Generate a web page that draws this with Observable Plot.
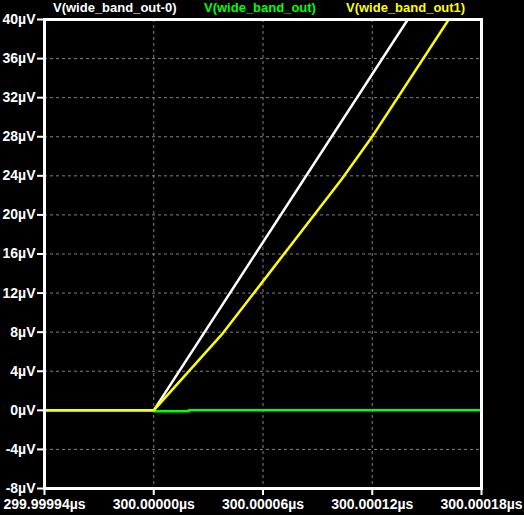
<!DOCTYPE html>
<html>
<head>
<meta charset="utf-8">
<script src="https://cdn.jsdelivr.net/npm/d3@7"></script>
<script src="https://cdn.jsdelivr.net/npm/@observablehq/plot@0.6"></script>
<style>
  html, body { margin: 0; padding: 0; background: #000; }
  #wrap { position: relative; width: 524px; height: 515px; background: #000; }
  #legend span { position: absolute; top: 0px; font: bold 13px "Liberation Sans", Arial, sans-serif; white-space: nowrap; }
</style>
</head>
<body>
<div id="wrap"><div id="legend"></div></div>
<script>
// time axis: picoseconds offset from 300 µs
const seriesNames = ["V(wide_band_out-0)", "V(wide_band_out)", "V(wide_band_out1)"];
const seriesColors = ["#ffffff", "#00ff00", "#ffff00"];

const whiteT = [-60, 0, 139.5];
const whiteV = [0, 0, 40];

const greenT = [-60, 0, 0, 19.2, 19.2, 180];
const greenV = [0, 0, -0.1, -0.1, 0, 0];

const yellowT = [-60, 0, 37.9, 103.2, 119.7, 162.0];
const yellowV = [0, 0, 7.88, 23.64, 27.94, 40];

const xTicks = [-60, 0, 60, 120, 180];
const xTickLabels = ["299.99994µs", "300.00000µs", "300.00006µs", "300.00012µs", "300.00018µs"];
const yTicks = [-8, -4, 0, 4, 8, 12, 16, 20, 24, 28, 32, 36, 40];

const mk = (T, V, s) => T.map((t, i) => ({t, v: V[i], s}));
const data = [
  ...mk(whiteT, whiteV, seriesNames[0]),
  ...mk(greenT, greenV, seriesNames[1]),
  ...mk(yellowT, yellowV, seriesNames[2])
];

const font = 'bold 14px "Liberation Sans", Arial, sans-serif';

const chart = Plot.plot({
  width: 524,
  height: 515,
  marginLeft: 44,
  marginRight: 43,
  marginTop: 19,
  marginBottom: 27,
  style: { background: "#000", color: "#fff", font },
  x: { domain: [-60, 180] },
  y: { domain: [-8, 40] },
  color: { domain: seriesNames, range: seriesColors },
  marks: [
    Plot.gridX(xTicks.slice(1, -1), { stroke: "#808080", strokeOpacity: 1, strokeDasharray: "3,3", strokeWidth: 1 }),
    Plot.gridY(yTicks.slice(1, -1), { stroke: "#808080", strokeOpacity: 1, strokeDasharray: "3,3", strokeWidth: 1 }),
    Plot.axisY(yTicks, { tickFormat: d => d + "µV", tickSize: 7, tickPadding: 2, stroke: "#fff", strokeWidth: 2, fill: "#fff", fontSize: 14, fontWeight: "bold", label: null }),
    Plot.axisX(xTicks, { tickFormat: d => xTickLabels[xTicks.indexOf(d)], tickSize: 7, tickPadding: 4, stroke: "#fff", strokeWidth: 2, fill: "#fff", fontSize: 14, fontWeight: "bold", label: null }),
    Plot.line(data, { x: "t", y: "v", z: "s", stroke: "s", strokeWidth: 2.5, clip: true, curve: "linear" }),
    Plot.frame({ stroke: "#fff", strokeWidth: 3 })
  ]
});
document.getElementById("wrap").appendChild(chart);

const legendPos = [53, 204, 346];
const lg = document.getElementById("legend");
seriesNames.forEach((n, i) => {
  const s = document.createElement("span");
  s.textContent = n;
  s.style.color = seriesColors[i];
  s.style.left = legendPos[i] + "px";
  lg.appendChild(s);
});
lg.style.position = "absolute";
lg.style.left = "0"; lg.style.top = "0"; lg.style.zIndex = "2";
</script>
</body>
</html>
